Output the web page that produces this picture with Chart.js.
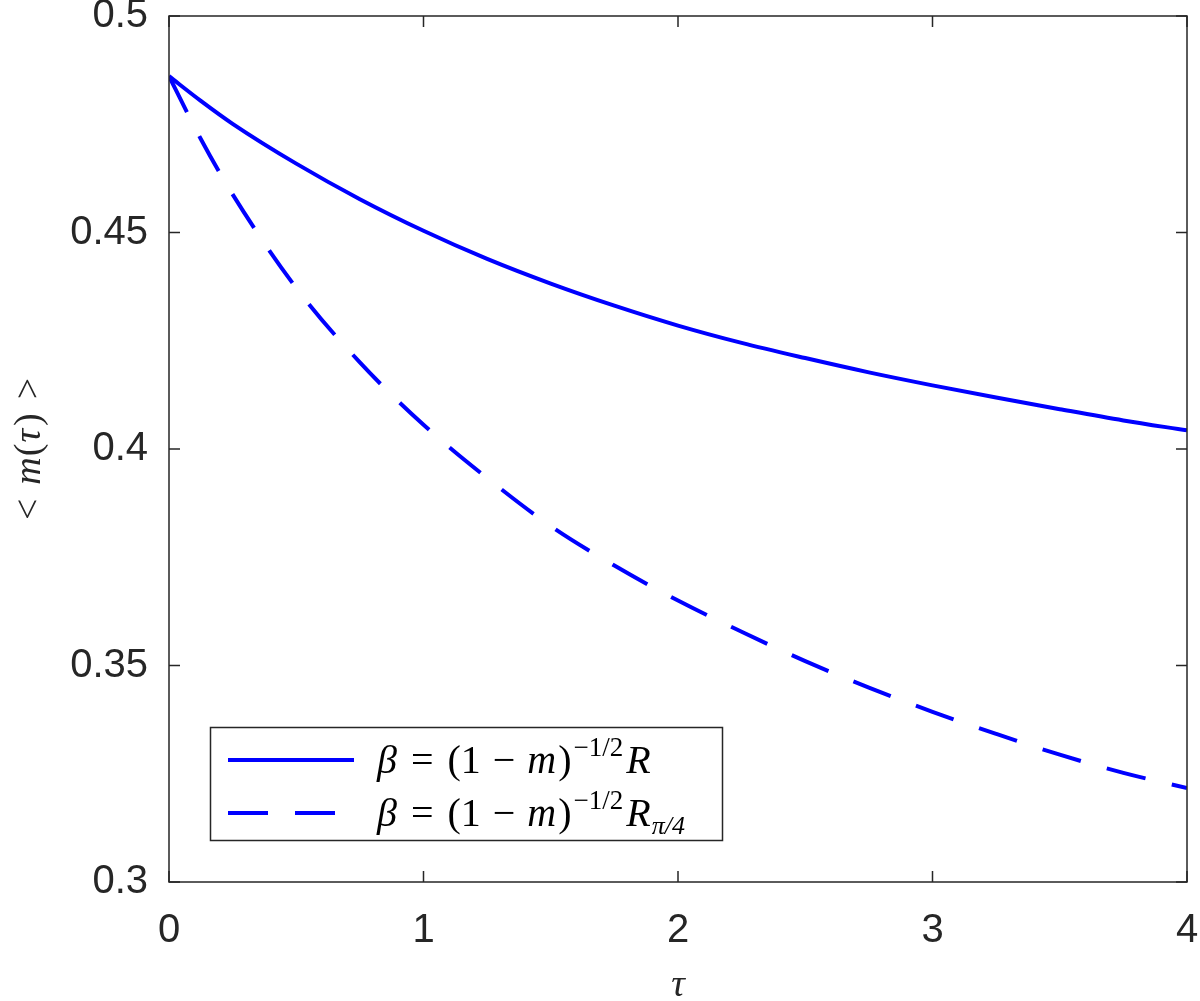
<!DOCTYPE html>
<html>
<head>
<meta charset="utf-8">
<script src="https://cdn.jsdelivr.net/npm/chart.js@4.4.1/dist/chart.umd.min.js"></script>
<style>
  html, body { margin: 0; padding: 0; background: #ffffff; }
  #wrap { width: 1200px; height: 1001px; position: relative; }
</style>
</head>
<body>
<div id="wrap"><canvas id="chart"></canvas></div>
<script>
// values
const tau = [0, 0.125, 0.25, 0.5, 0.75, 1, 1.25, 1.5, 1.75, 2, 2.25, 2.5, 2.75, 3, 3.25, 3.5, 3.75, 4];
const mSolid = [0.4861, 0.4804, 0.4751, 0.4659, 0.4577, 0.4504, 0.4439, 0.4382, 0.4331, 0.4285,
                0.4245, 0.4210, 0.4177, 0.4147, 0.4119, 0.4092, 0.4066, 0.4043];
const mDashed = [0.4861, 0.4716, 0.4588, 0.4372, 0.4200, 0.4056, 0.3933, 0.3822, 0.3731, 0.3650,
                 0.3578, 0.3510, 0.3449, 0.3393, 0.3342, 0.3294, 0.3252, 0.3217];
const xTickLabels = ['0', '1', '2', '3', '4'];
const yTickLabels = ['0.3', '0.35', '0.4', '0.45', '0.5'];
const seriesNames = ['β = (1 − m)^(−1/2) R', 'β = (1 − m)^(−1/2) R_π/4'];

const AXIS_COLOR = '#262626';
const LINE_COLOR = '#0000ff';
const MATH_FONT = '"Liberation Serif", "DejaVu Serif", serif';

// draw a row of text pieces, each with its own font and baseline shift
function drawRuns(ctx, x, y, runs) {
    runs.forEach(r => {
        ctx.font = r.font;
        ctx.fillText(r.t, x, y + (r.dy || 0));
        x += ctx.measureText(r.t).width + (r.gap || 0);
    });
    return x;
}

function mathRuns(sub) {
    const big = '40px ' + MATH_FONT;
    const bigIt = 'italic 40px ' + MATH_FONT;
    const small = '27px ' + MATH_FONT;
    const smallIt = 'italic 26px ' + MATH_FONT;
    const runs = [
        { t: 'β', font: bigIt, gap: 14 },
        { t: '=', font: big, gap: 14 },
        { t: '(1', font: big, gap: 12 },
        { t: '−', font: big, gap: 12 },
        { t: 'm', font: bigIt, gap: 2 },
        { t: ')', font: big, gap: 2 },
        { t: '−1/2', font: small, dy: -17, gap: 3 },
        { t: 'R', font: bigIt, gap: 1 },
    ];
    if (sub) runs.push({ t: 'π/4', font: smallIt, dy: 8 });
    return runs;
}

const matlabBox = {
    id: 'matlabBox',
    afterDraw(chart) {
        const { ctx, chartArea: a, scales } = chart;
        ctx.save();
        ctx.strokeStyle = AXIS_COLOR;
        ctx.lineWidth = 1.5;
        ctx.strokeRect(a.left, a.top, a.right - a.left, a.bottom - a.top);

        // inward ticks on all four sides
        const len = 11;
        ctx.beginPath();
        scales.x.ticks.forEach(t => {
            const px = scales.x.getPixelForValue(t.value);
            ctx.moveTo(px, a.bottom); ctx.lineTo(px, a.bottom - len);
            ctx.moveTo(px, a.top); ctx.lineTo(px, a.top + len);
        });
        scales.y.ticks.forEach(t => {
            const py = scales.y.getPixelForValue(t.value);
            ctx.moveTo(a.left, py); ctx.lineTo(a.left + len, py);
            ctx.moveTo(a.right, py); ctx.lineTo(a.right - len, py);
        });
        ctx.stroke();

        // legend
        const lx = 210.5, ly = 727.5, lw = 512, lh = 113;
        ctx.fillStyle = '#ffffff';
        ctx.fillRect(lx, ly, lw, lh);
        ctx.strokeRect(lx, ly, lw, lh);

        ctx.strokeStyle = LINE_COLOR;
        ctx.lineWidth = 4;
        const rows = [760, 813];
        chart.data.datasets.forEach((ds, i) => {
            ctx.setLineDash(ds.borderDash || []);
            ctx.beginPath();
            ctx.moveTo(228, rows[i]);
            ctx.lineTo(354, rows[i]);
            ctx.stroke();
        });
        ctx.setLineDash([]);

        ctx.fillStyle = '#000000';
        ctx.textBaseline = 'alphabetic';
        ctx.textAlign = 'left';
        drawRuns(ctx, 377, rows[0] + 13, mathRuns(false));
        drawRuns(ctx, 377, rows[1] + 13, mathRuns(true));

        // axis titles
        ctx.fillStyle = AXIS_COLOR;
        ctx.font = 'italic 38px ' + MATH_FONT;
        ctx.textAlign = 'center';
        ctx.fillText('τ', (a.left + a.right) / 2, 996);

        ctx.save();
        ctx.translate(40, (a.top + a.bottom) / 2);
        ctx.rotate(-Math.PI / 2);
        const up = '38px ' + MATH_FONT, it = 'italic 38px ' + MATH_FONT;
        const yRuns = [
            { t: '<', font: up, gap: 14 },
            { t: 'm', font: it, gap: 1 },
            { t: '(', font: up, gap: 1 },
            { t: 'τ', font: it, gap: 3 },
            { t: ')', font: up, gap: 14 },
            { t: '>', font: up },
        ];
        ctx.textAlign = 'left';
        let w = 0;
        yRuns.forEach(r => { ctx.font = r.font; w += ctx.measureText(r.t).width + (r.gap || 0); });
        drawRuns(ctx, -w / 2, 0, yRuns);
        ctx.restore();

        ctx.restore();
    }
};

const data = {
    datasets: [
        {
            label: seriesNames[0],
            data: tau.map((t, i) => ({ x: t, y: mSolid[i] })),
            borderColor: LINE_COLOR,
            borderWidth: 4,
            pointRadius: 0,
            cubicInterpolationMode: 'monotone',
            fill: false,
        },
        {
            label: seriesNames[1],
            data: tau.map((t, i) => ({ x: t, y: mDashed[i] })),
            borderColor: LINE_COLOR,
            borderWidth: 4,
            borderDash: [40, 27],
            pointRadius: 0,
            cubicInterpolationMode: 'monotone',
            fill: false,
        }
    ]
};

const tickFont = { family: '"Liberation Sans", Arial, sans-serif', size: 40, lineHeight: 0.8 };

const options = {
    responsive: true,
    maintainAspectRatio: false,
    animation: { duration: 0 },
    layout: { autoPadding: false, padding: { left: 0, right: 13, top: 16, bottom: 0 } },
    plugins: {
        legend: { display: false },
        tooltip: { enabled: false },
    },
    scales: {
        x: {
            type: 'linear',
            min: 0,
            max: 4,
            grid: { display: false, drawTicks: false },
            border: { display: false },
            ticks: {
                stepSize: 1,
                color: AXIS_COLOR,
                font: tickFont,
                padding: 33,
                callback: (v, i) => xTickLabels[i],
            },
            afterFit(scale) {
                scale.height = 119;
                // the outer labels may overhang the plot box, as in the original
                scale.paddingLeft = 0;
                scale.paddingRight = 0;
            },
        },
        y: {
            type: 'linear',
            min: 0.3,
            max: 0.5,
            grid: { display: false, drawTicks: false },
            border: { display: false },
            ticks: {
                stepSize: 0.05,
                color: AXIS_COLOR,
                font: tickFont,
                padding: 21,
                callback: (v, i) => yTickLabels[i],
            },
            afterFit(scale) {
                scale.width = 169;
                scale.paddingTop = 0;
                scale.paddingBottom = 0;
            },
        },
    },
};

new Chart(document.getElementById('chart').getContext('2d'), {
    type: 'line',
    data: data,
    options: options,
    plugins: [matlabBox],
});
</script>
</body>
</html>
